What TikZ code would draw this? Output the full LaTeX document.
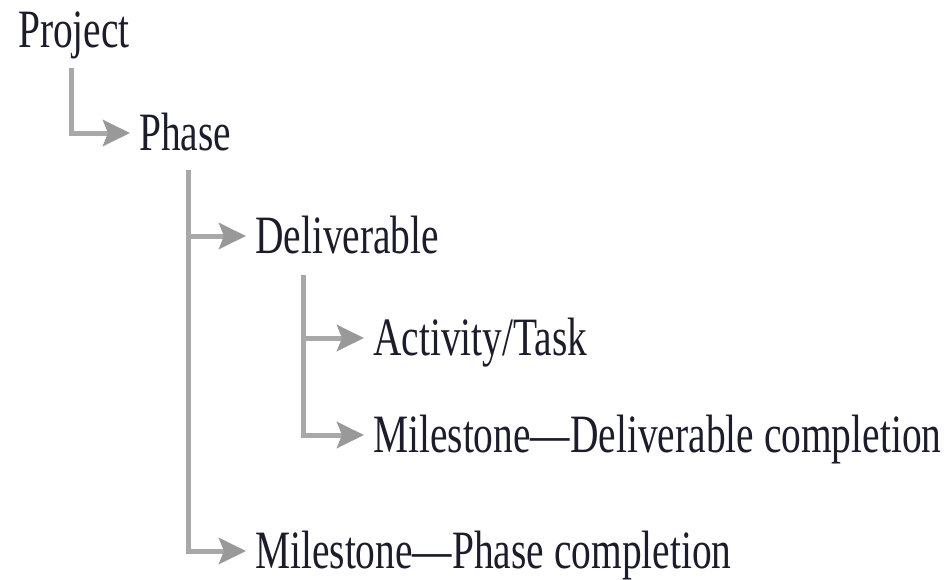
\documentclass[tikz,border=0pt]{standalone}
\usepackage{fontspec}
\setmainfont{Liberation Serif}
\usetikzlibrary{arrows.meta}
\definecolor{txt}{HTML}{1C1C2A}
\definecolor{linegray}{HTML}{A8A8A8}
\definecolor{headgray}{HTML}{999999}
\newcommand\sqz[1]{\scalebox{0.73}[1]{#1}}
\begin{document}
\begin{tikzpicture}[x=1pt,y=-1pt,
  lbl/.style={anchor=base west, inner sep=0pt, text height=34pt, text depth=0pt,
    text=txt, font=\fontsize{54}{60}\selectfont},
  conn/.style={draw=linegray, line width=5pt,
    -{Stealth[length=27pt,width=26pt,inset=5pt,color=headgray]}}]
\useasboundingbox (0,0) rectangle (946,579);
% texts
\node[lbl] (project) at (18,47) {\sqz{Project}};
\node[lbl] (phase) at (139,150) {\sqz{Phase}};
\node[lbl] (deliv) at (255,253) {\sqz{Deliverable}};
\node[lbl] (task) at (373,355) {\sqz{Activity/Task}};
\node[lbl] (msdel) at (373,452) {\sqz{Milestone---Deliverable completion}};
\node[lbl] (msphase) at (255,568) {\sqz{Milestone---Phase completion}};
% connector start points
\coordinate (sproj) at (71,68);
\coordinate (sphase) at (188,170);
\coordinate (sdeliv) at (303,275);
% connectors
\draw[conn] (sproj) |- ([xshift=-9pt]phase.west);
\draw[conn] (sphase) |- ([xshift=-9pt]deliv.west);
\draw[conn] (sphase) |- ([xshift=-9pt]msphase.west);
\draw[conn] (sdeliv) |- ([xshift=-9pt]task.west);
\draw[conn] (sdeliv) |- ([xshift=-9pt]msdel.west);
\end{tikzpicture}
\end{document}
